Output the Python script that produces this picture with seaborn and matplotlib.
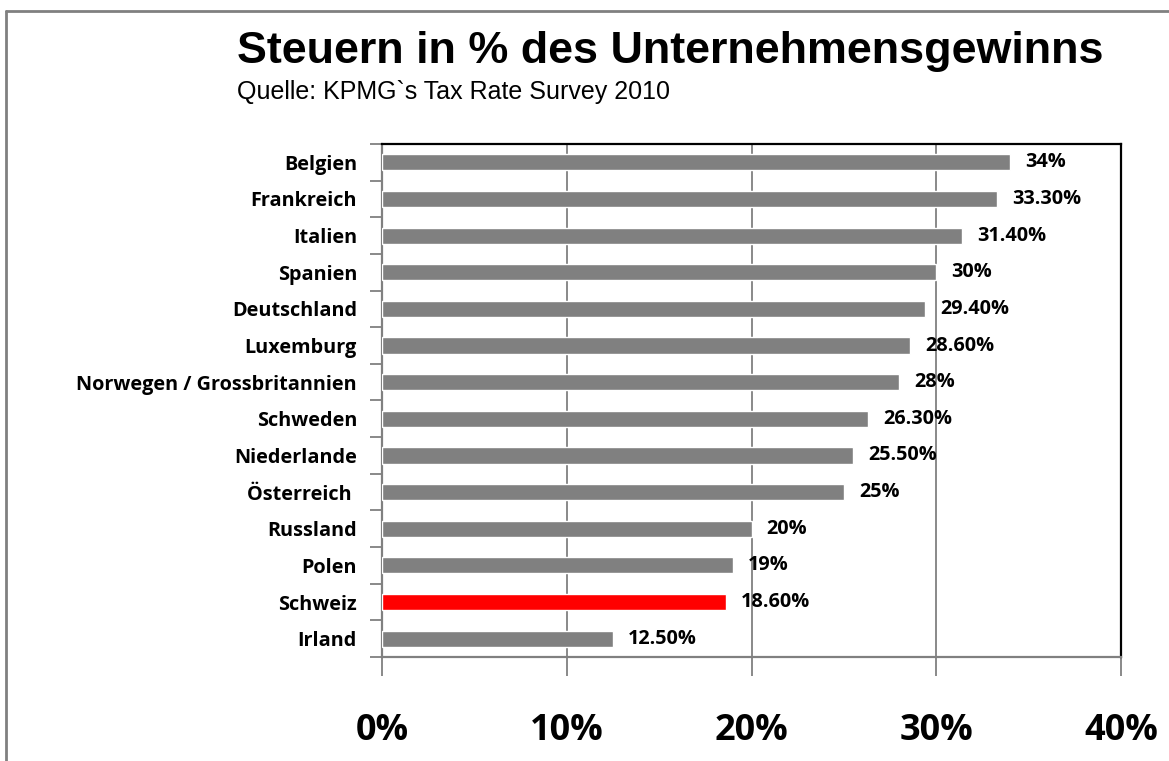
import matplotlib
matplotlib.use("Agg")
import matplotlib.pyplot as plt
from matplotlib.lines import Line2D
from matplotlib.ticker import FixedLocator
import seaborn as sns
import pandas as pd

countries = ["Belgien", "Frankreich", "Italien", "Spanien", "Deutschland", "Luxemburg",
             "Norwegen / Grossbritannien", "Schweden", "Niederlande", "Österreich ",
             "Russland", "Polen", "Schweiz", "Irland"]
rates = [34, 33.3, 31.4, 30, 29.4, 28.6, 28, 26.3, 25.5, 25, 20, 19, 18.6, 12.5]
value_labels = ["34%", "33.30%", "31.40%", "30%", "29.40%", "28.60%", "28%", "26.30%",
                "25.50%", "25%", "20%", "19%", "18.60%", "12.50%"]
highlight = "Schweiz"
x_ticks = [0, 10, 20, 30, 40]
x_tick_labels = ["0%", "10%", "20%", "30%", "40%"]
title = "Steuern in % des Unternehmensgewinns"
subtitle = "Quelle: KPMG`s Tax Rate Survey 2010"

sns.set_theme(style="white")
plt.rcParams['font.family'] = ['Open Sans', 'DejaVu Sans']
plt.rcParams['text.color'] = 'black'

df = pd.DataFrame({"country": countries, "rate": rates})
palette = {c: ("#FF0000" if c == highlight else "#808080") for c in countries}

fig = plt.figure(figsize=(11.69, 7.61), dpi=100)
ax = fig.add_axes([382/1169, 1-657/761, (1121-382)/1169, (657-144)/761])

sns.barplot(data=df, x="rate", y="country", hue="country", palette=palette,
            legend=False, orient="h", width=0.44, saturation=1, ax=ax, zorder=3)

ax.set_xlim(0, 40)
ax.set_ylim(len(countries) - 0.5, -0.5)
ax.set_xticks(x_ticks)
ax.set_xticklabels(x_tick_labels)
for lab in ax.get_xticklabels():
    lab.set_fontfamily(["Open Sans", "DejaVu Sans"])
    lab.set_fontsize(26)
    lab.set_fontweight("bold")
    lab.set_color("black")
ax.tick_params(axis="x", length=14, width=1.3, color="#808080", pad=26, direction="out",
               bottom=True)
ax.tick_params(axis="y", which="major", length=0, pad=18)
ax.yaxis.set_minor_locator(FixedLocator([i - 0.5 for i in range(len(countries) + 1)]))
ax.tick_params(axis="y", which="minor", length=9, width=1.3, color="#808080", left=True)
for lab in ax.get_yticklabels():
    lab.set_fontsize(14.3)
    lab.set_fontweight("bold")
    lab.set_color("black")
ax.set_xlabel("")
ax.set_ylabel("")

ax.xaxis.grid(True, color="#808080", linewidth=1.3, zorder=0)
ax.set_axisbelow(True)
for side in ["left", "bottom"]:
    ax.spines[side].set_color("#808080")
    ax.spines[side].set_linewidth(1.6)
for side in ["top", "right"]:
    ax.spines[side].set_color("black")
    ax.spines[side].set_linewidth(1.6)

for i, (v, t) in enumerate(zip(rates, value_labels)):
    ax.annotate(t, xy=(v, i), xytext=(11, 0), textcoords="offset points",
                ha="left", va="center", fontsize=14.3, fontweight="bold", color="black")

fig.text(237/1169, 1-51/761, title, fontsize=32.3, fontweight="bold", color="black",
         family=["Liberation Sans", "DejaVu Sans"], ha="left", va="center")
fig.text(237/1169, 1-92/761, subtitle, fontsize=18, color="black",
         family=["Liberation Sans", "DejaVu Sans"], ha="left", va="center")

fig.add_artist(Line2D([6/1169, 1], [1-11/761, 1-11/761], color="#808080", linewidth=2,
                      transform=fig.transFigure))
fig.add_artist(Line2D([6/1169, 6/1169], [0, 1-11/761], color="#808080", linewidth=2,
                      transform=fig.transFigure))

fig.savefig("out.png", dpi=100, facecolor="white")
